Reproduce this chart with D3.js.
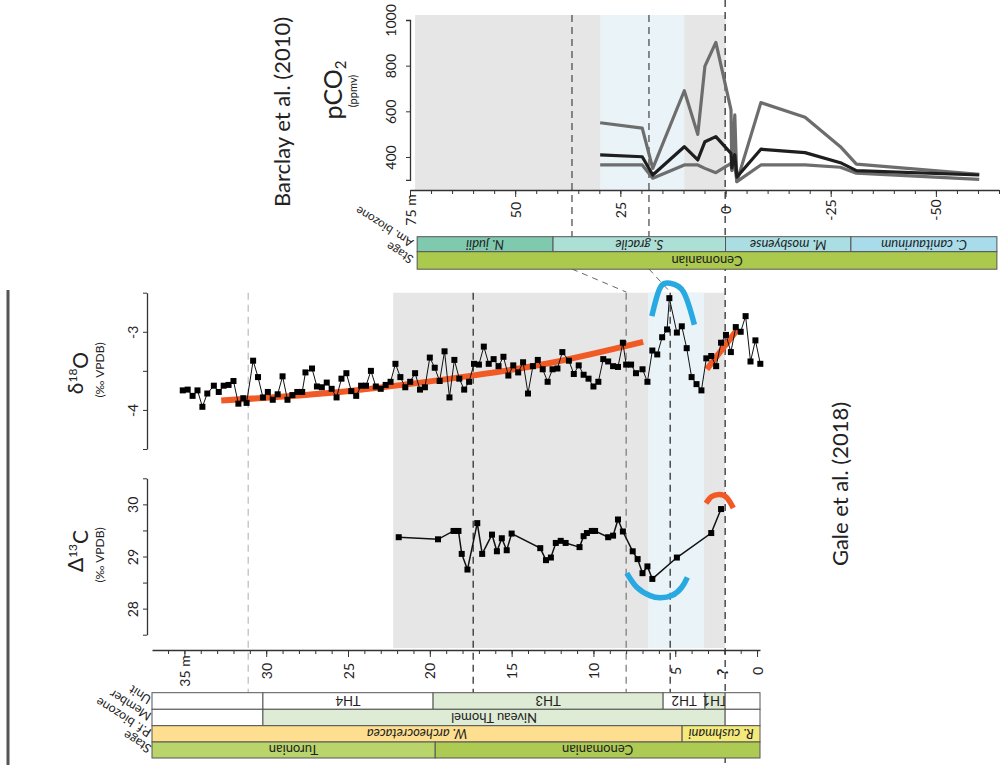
<!DOCTYPE html>
<html><head><meta charset="utf-8">
<script src="https://cdn.jsdelivr.net/npm/d3@7"></script>
<style>body{margin:0;background:#fff}svg{display:block}text{font-family:Lato,'Open Sans',sans-serif;fill:#222}</style>
</head><body><svg id="c" width="1001" height="765"></svg>
<script>
// ---------------- DATA ----------------
const d18O_depth = [35.1,34.8,34.5,34.2,33.9,33.6,33.2,32.9,32.6,32.3,32.0,31.7,31.4,31.2,30.8,30.5,30.2,29.9,29.6,29.3,29.0,28.7,28.4,28.1,27.8,27.6,27.2,26.9,26.6,26.3,26.0,25.7,25.4,25.1,24.8,24.5,24.2,23.9,23.6,23.3,23.0,22.7,22.4,22.1,21.8,21.5,21.2,20.9,20.6,20.3,20.0,19.7,19.4,19.1,18.8,18.5,18.2,17.9,17.6,17.3,17.0,16.7,16.4,16.1,15.8,15.5,15.2,14.9,14.6,14.3,14.0,13.7,13.4,13.1,12.8,12.5,12.2,11.9,11.5,11.2,10.9,10.6,10.3,10.0,9.7,9.4,9.1,8.8,8.5,8.2,8.0,7.7,7.4,7.0,6.7,6.4,6.1,5.8,5.5,5.36,4.9,4.6,4.3,4.0,3.7,3.4,3.1,2.8,2.5,2.2,1.9,1.6,1.3,1.0,0.7,0.4,0.1,-0.2];
const d18O_value = [-3.75,-3.74,-3.82,-3.75,-3.96,-3.79,-3.69,-3.77,-3.69,-3.68,-3.63,-3.92,-3.85,-3.91,-3.37,-3.58,-3.84,-3.77,-3.87,-3.80,-3.57,-3.87,-3.81,-3.77,-3.77,-3.52,-3.47,-3.70,-3.71,-3.65,-3.73,-3.84,-3.60,-3.53,-3.76,-3.82,-3.69,-3.69,-3.50,-3.70,-3.73,-3.68,-3.64,-3.41,-3.58,-3.71,-3.64,-3.53,-3.74,-3.71,-3.33,-3.46,-3.63,-3.25,-3.84,-3.36,-3.60,-3.74,-3.64,-3.41,-3.42,-3.19,-3.41,-3.35,-3.44,-3.32,-3.56,-3.43,-3.52,-3.39,-3.79,-3.44,-3.36,-3.48,-3.64,-3.48,-3.47,-3.26,-3.37,-3.54,-3.43,-3.55,-3.60,-3.70,-3.64,-3.35,-3.38,-3.44,-3.45,-3.14,-3.42,-3.42,-3.53,-3.48,-3.64,-3.24,-3.29,-3.07,-2.97,-2.57,-3.01,-2.93,-3.21,-3.58,-3.67,-3.75,-3.34,-3.31,-3.44,-3.14,-3.04,-3.26,-2.94,-3.00,-2.80,-3.38,-3.11,-3.41];

const d13C_depth = [21.9,19.5,18.55,18.25,18.05,17.7,17.1,16.8,16.2,15.9,15.6,15.3,15.0,13.25,12.9,12.6,12.3,12.0,11.7,10.85,10.6,10.4,10.1,9.9,9.1,8.8,8.5,8.2,7.6,7.3,7.0,6.7,6.4,4.9,2.8,2.2];
const d13C_value = [29.37,29.33,29.49,29.49,29.05,28.75,29.64,29.05,29.42,29.10,29.35,29.12,29.44,29.16,28.93,28.98,29.26,29.30,29.26,29.18,29.39,29.45,29.49,29.49,29.37,29.40,29.71,29.48,29.10,28.95,28.68,28.81,28.57,28.98,29.45,29.91];

// trend lines and highlight arcs (depth, value)
const d18O_trend1_depth = [32.75,25.5,18.4,12.65,6.96];
const d18O_trend1_value = [-3.88,-3.77,-3.59,-3.40,-3.13];
const d18O_trend2_depth = [3.07,1.2];
const d18O_trend2_value = [-3.48,-2.97];
const d18O_arc_depth = [6.43,5.93,5.31,4.50,3.83];
const d18O_arc_value = [-2.80,-2.44,-2.38,-2.49,-2.91];
const d13C_arcBlue_depth = [7.96,7.35,6.54,5.93,5.21,4.60,4.26];
const d13C_arcBlue_value = [28.68,28.41,28.25,28.21,28.25,28.41,28.60];
const d13C_arcOrange_depth = [3.12,2.77,2.30,1.85,1.45];
const d13C_arcOrange_value = [30.02,30.15,30.19,30.13,29.93];

// pCO2 (Barclay et al. 2010): position (m) and three estimates (ppmv)
const pco2_pos   = [29.8,19.8,17.3,9.8,6.6,4.9,2.3,-1.3,-1.5,-2.2,-2.7,-8.4,-18.9,-27.3,-31.1,-60.3];
const pco2_upper = [550,526,350,690,499,798,902,606,343,584,292,638,574,445,369,324];
const pco2_mid   = [409,401,321,445,387,467,489,416,352,410,312,434,419,375,340,321];
const pco2_lower = [365,365,307,365,365,350,331,372,340,365,292,365,365,355,329,302];

// shading intervals
const top_gray = [73.8, 0];
const top_blue = [29.8, 9.8];
const bot_gray = [22.24, 1.95];
const bot_blue = [6.66, 3.24];
const top_dashes = [36.5, 18.2];
const bot_dashes = [31.1, 17.35, 8.0, 5.31];
const long_dash_depth = 1.95;

// stratigraphy
const top_biozones = [["N. judii",73.3,41.0],["S. gracile",41.0,0],["M. mosbyense",0,-29.8],["C. canitaurinum",-29.8,-64.5]];
const top_stages = [["Cenomanian",73.3,-64.5]];
const bot_units = [["",36.98,30.2],["TH4",30.2,19.8],["TH3",19.8,5.74],["TH2",5.74,3.18],["TH1",3.18,1.95],["",1.95,-0.18]];
const bot_members = [["",36.98,30.2],["Niveau Thomel",30.2,1.95],["",1.95,-0.18]];
const bot_biozones = [["W. archeocretacea",36.98,4.58],["R. cushmani",4.58,-0.18]];
const bot_stages = [["Turonian",36.98,19.67],["Cenomanian",19.67,-0.18]];

const depth_major = [0,5,10,15,20,25,30,35];
const depth_labels = ["0","5","10","15","20","25","30","35 m"];
const pos_major = [75,50,25,0,-25,-50];
const pos_labels = ["75 m","50","25","0","-25","-50"];
const d18O_ticks = [-4.5,-4,-3.5,-3,-2.5];
const d13C_ticks = [27.5,28,28.5,29,29.5,30,30.5];
const pco2_ticks = [400,600,800,1000];

// ---------------- SCALES ----------------
const svg = d3.select("#c");
const xD = d3.scaleLinear().domain([36.98,-0.18]).range([152,760]);
const yO = d3.scaleLinear().domain([-4.5,-2.5]).range([449,292.7]);
const yC = d3.scaleLinear().domain([27.5,30.5]).range([634.7,478.3]);
const xP = d3.scaleLinear().domain([75,-65]).range([410,999]);
const yP = d3.scaleLinear().domain([300,1000]).range([179.8,20]);

const GRAY="#e6e6e6", BLUE="#eaf4f8", ORANGE="#f15a24", SKY="#29a9e1";

// ---------------- SHADING ----------------
svg.append("rect").attr("x",xP(top_gray[0])).attr("y",15).attr("width",xP(top_gray[1])-xP(top_gray[0])).attr("height",175).attr("fill",GRAY);
svg.append("rect").attr("x",xP(top_blue[0])).attr("y",15).attr("width",xP(top_blue[1])-xP(top_blue[0])).attr("height",175).attr("fill",BLUE);
svg.append("rect").attr("x",xD(bot_gray[0])).attr("y",292.7).attr("width",xD(bot_gray[1])-xD(bot_gray[0])).attr("height",355.3).attr("fill",GRAY);
svg.append("rect").attr("x",xD(bot_blue[0])).attr("y",292.7).attr("width",xD(bot_blue[1])-xD(bot_blue[0])).attr("height",355.3).attr("fill",BLUE);

// dashed lines
top_dashes.forEach(v=>svg.append("line").attr("x1",xP(v)).attr("x2",xP(v)).attr("y1",15).attr("y2",237).attr("stroke","#444").attr("stroke-width",1.2).attr("stroke-dasharray","7,5"));
const dashCol = ["#bbb","#222","#777","#222"];
bot_dashes.forEach((d,i)=>svg.append("line").attr("x1",xD(d)).attr("x2",xD(d)).attr("y1",292.7).attr("y2",692.7).attr("stroke",dashCol[i]).attr("stroke-width",1.2).attr("stroke-dasharray","7,5"));
svg.append("line").attr("x1",xD(long_dash_depth)).attr("x2",xD(long_dash_depth)).attr("y1",0).attr("y2",765).attr("stroke","#222").attr("stroke-width",1.2).attr("stroke-dasharray","7,5");
// connectors between panels
[[top_dashes[0],bot_dashes[2]],[top_dashes[1],bot_dashes[3]]].forEach(p=>svg.append("line").attr("x1",xP(p[0])).attr("y1",269).attr("x2",xD(p[1])).attr("y2",292).attr("stroke","#666").attr("stroke-width",1).attr("stroke-dasharray","6,5"));

// left bar
svg.append("line").attr("x1",8).attr("x2",8).attr("y1",290).attr("y2",765).attr("stroke","#555").attr("stroke-width",3);

// ---------------- AXES ----------------
function rotLeft(g, off){
  g.selectAll(".tick text").attr("transform","rotate(-90)").attr("x",0).attr("y",-off).attr("dy",0).attr("text-anchor","middle");
}
function rotBottom(g, off){
  g.selectAll(".tick text").attr("transform","rotate(-90)").attr("x",-off).attr("y",5).attr("dy",0).attr("text-anchor","middle");
}
function styleAxis(g,size){
  g.selectAll("path.domain").attr("stroke","#333").attr("stroke-width",1.3);
  g.selectAll(".tick line").attr("stroke","#333");
  g.selectAll("text").style("font-size",size+"px").attr("fill","#333").style("font-family","Lato,'Open Sans',sans-serif");
}
// pCO2 y axis
let g = svg.append("g").attr("transform","translate(410,0)").call(d3.axisLeft(yP).tickValues(pco2_ticks).tickSize(4).tickSizeOuter(4).tickFormat(d3.format("d")));
styleAxis(g,14); rotLeft(g,14);
// pCO2 x axis
g = svg.append("g").attr("transform","translate(0,190)").call(d3.axisBottom(xP).tickValues(d3.range(-65,76,5)).tickSize(4).tickSizeOuter(0).tickFormat(""));
styleAxis(g,14);
g = svg.append("g").attr("transform","translate(0,190)").call(d3.axisBottom(xP).tickValues(pos_major).tickSize(7).tickSizeOuter(0).tickFormat((d,i)=>pos_labels[i]));
styleAxis(g,14); rotBottom(g,20); g.select("path.domain").remove();
// δ18O y axis
g = svg.append("g").attr("transform","translate(147,0)").call(d3.axisLeft(yO).tickValues(d18O_ticks).tickSize(4).tickSizeOuter(0).tickFormat(d=>Number.isInteger(d)?String(d):""));
styleAxis(g,14); rotLeft(g,9);
// Δ13C y axis
g = svg.append("g").attr("transform","translate(147,0)").call(d3.axisLeft(yC).tickValues(d13C_ticks).tickSize(4).tickSizeOuter(0).tickFormat(d=>Number.isInteger(d)?String(d):""));
styleAxis(g,14); rotLeft(g,9);
// depth axis
g = svg.append("g").attr("transform","translate(0,650)").call(d3.axisBottom(xD).tickValues(d3.range(0,37,1)).tickSize(4).tickSizeOuter(0).tickFormat(""));
styleAxis(g,14);
g = svg.append("g").attr("transform","translate(0,650)").call(d3.axisBottom(xD).tickValues(depth_major).tickSize(7).tickSizeOuter(0).tickFormat((d,i)=>depth_labels[i]));
styleAxis(g,14); rotBottom(g,21); g.select("path.domain").remove();
// "?" marks
svg.append("text").attr("transform",`translate(${xD(2.1)},672) rotate(-90)`).attr("text-anchor","middle").attr("dy","0.35em").style("font-size","15px").style("font-weight","bold").text("?");

// ---------------- pCO2 LINES ----------------
const lineP = (vals)=>d3.line().x((d,i)=>xP(pco2_pos[i])).y((d,i)=>yP(vals[i]))(vals);
[[pco2_upper,"#6d6d6d"],[pco2_lower,"#6d6d6d"],[pco2_mid,"#1e1e1e"]].forEach(s=>{
  svg.append("path").attr("d",lineP(s[0])).attr("fill","none").attr("stroke",s[1]).attr("stroke-width",3.2).attr("stroke-linejoin","round");
});

// ---------------- δ18O ----------------
const curveLine = (ds,vs,ys,curve)=>d3.line().curve(curve).x((d,i)=>xD(ds[i])).y((d,i)=>ys(vs[i]))(ds);
svg.append("path").attr("d",curveLine(d18O_trend1_depth,d18O_trend1_value,yO,d3.curveNatural)).attr("fill","none").attr("stroke",ORANGE).attr("stroke-width",6);
svg.append("path").attr("d",curveLine(d18O_trend2_depth,d18O_trend2_value,yO,d3.curveLinear)).attr("fill","none").attr("stroke",ORANGE).attr("stroke-width",6);
svg.append("path").attr("d",curveLine(d18O_depth,d18O_value,yO,d3.curveLinear)).attr("fill","none").attr("stroke","#111").attr("stroke-width",1);
svg.selectAll(".sq18").data(d18O_depth).join("rect").attr("x",(d)=>xD(d)-3).attr("y",(d,i)=>yO(d18O_value[i])-3).attr("width",6).attr("height",6).attr("fill","#000");
svg.append("path").attr("d",curveLine(d18O_arc_depth,d18O_arc_value,yO,d3.curveNatural)).attr("fill","none").attr("stroke",SKY).attr("stroke-width",5.5);

// ---------------- Δ13C ----------------
svg.append("path").attr("d",curveLine(d13C_depth,d13C_value,yC,d3.curveLinear)).attr("fill","none").attr("stroke","#111").attr("stroke-width",1.5);
svg.selectAll(".sq13").data(d13C_depth).join("rect").attr("x",(d)=>xD(d)-3).attr("y",(d,i)=>yC(d13C_value[i])-3).attr("width",6).attr("height",6).attr("fill","#000");
svg.append("path").attr("d",curveLine(d13C_arcBlue_depth,d13C_arcBlue_value,yC,d3.curveNatural)).attr("fill","none").attr("stroke",SKY).attr("stroke-width",5.5);
svg.append("path").attr("d",curveLine(d13C_arcOrange_depth,d13C_arcOrange_value,yC,d3.curveNatural)).attr("fill","none").attr("stroke",ORANGE).attr("stroke-width",5.5);

// ---------------- STRAT COLUMNS ----------------
function row(items, sx, y0, h, fills, italic){
  items.forEach((it,i)=>{
    const x0=sx(it[1]), x1=sx(it[2]);
    svg.append("rect").attr("x",x0).attr("y",y0).attr("width",x1-x0).attr("height",h).attr("fill",fills[i]).attr("stroke","#555").attr("stroke-width",1);
    if(it[0]) svg.append("text").attr("transform",`translate(${(x0+x1)/2},${y0+h/2}) rotate(180)`).attr("text-anchor","middle").attr("dy","0.36em").style("font-size","13px").style("font-style",italic?"italic":"normal").attr("fill","#333").text(it[0]);
  });
}
row(top_biozones, xP, 236.7, 15, ["#7fc9af","#acdfd6","#aadee2","#a8dcea"], true);
row(top_stages, xP, 251.7, 17.5, ["#aac94d"], false);
row(bot_units, xD, 692.7, 16.6, ["#fff","#fff","#deebd5","#fff","#deebd5","#fff"], false);
row(bot_members, xD, 709.3, 16.4, ["#fff","#deebd5","#fff"], false);
row(bot_biozones, xD, 725.7, 16.3, ["#fddf8f","#f4ea7c"], true);
row(bot_stages, xD, 742, 16, ["#b8d46b","#adca53"], false);

// column headers
function header(lbls, x, ys, fs){
  lbls.forEach((t,i)=>svg.append("text").attr("transform",`translate(${x},${ys[i]}) rotate(212)`).attr("text-anchor","start").attr("dy","0.35em").style("font-size",fs+"px").attr("fill","#444").text(t));
}
header(["Unit","Member","P.f. biozone","Stage"], 150, [701,717.5,734,750], 12.5);
header(["Am. biozone","Stage"], 412, [244,260.5], 12);

// ---------------- TITLES ----------------
function vtext(x,y,size,parts){
  const t = svg.append("text").attr("transform",`translate(${x},${y}) rotate(-90)`).attr("text-anchor","middle").attr("dy","0.35em").style("font-size",size+"px").attr("fill","#222");
  parts.forEach(p=>{ const s=t.append("tspan").text(p[0]); if(p[1]) s.attr("dy",p[1]); if(p[2]) s.style("font-size",p[2]); });
  return t;
}
vtext(282,112,22,[["Barclay et al. (2010)"]]);
vtext(333,90,25,[["pCO"],["2","0.3em","15px"]]);
vtext(353,91,11,[["(ppmv)"]]);
vtext(840,484,22,[["Gale et al. (2018)"]]);
vtext(76,373,21,[["δ"],["18","-0.55em","12px"],["O","0.55em"]]);
vtext(100,370,12,[["(‰ VPDB)"]]);
vtext(76,551,21,[["Δ"],["13","-0.55em","12px"],["C","0.55em"]]);
vtext(100,555,12,[["(‰ VPDB)"]]);
</script></body></html>
